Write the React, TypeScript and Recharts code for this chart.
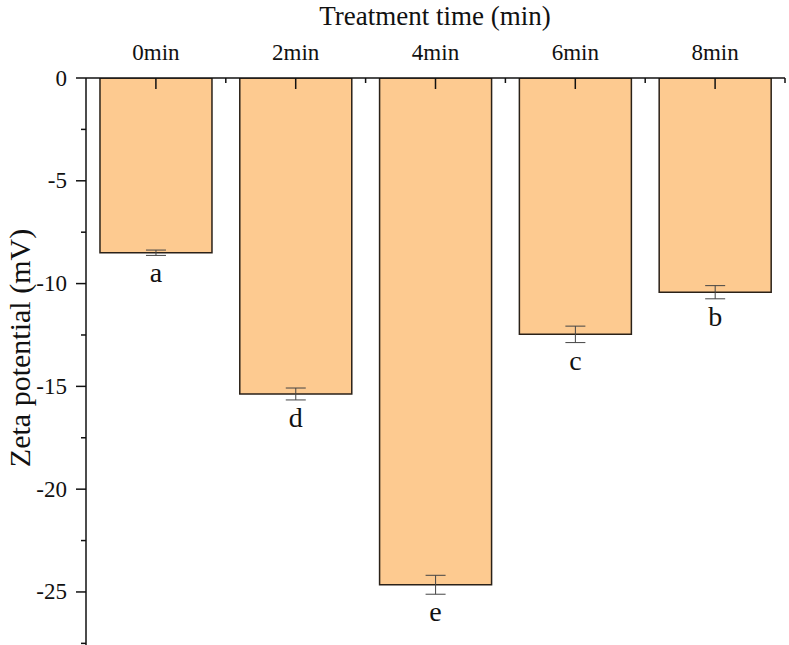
import { BarChart, Bar, XAxis, YAxis, ErrorBar, LabelList } from 'recharts';

const categories = ['0min', '2min', '4min', '6min', '8min'];
const zeta = [-8.5, -15.37, -24.65, -12.47, -10.42];
const errors = [0.13, 0.29, 0.46, 0.4, 0.32];
const letters = ['a', 'd', 'e', 'c', 'b'];
const yTicks = [0, -2.5, -5, -7.5, -10, -12.5, -15, -17.5, -20, -22.5, -25, -27.5];

const data = categories.map((name, i) => ({ name, value: zeta[i], err: errors[i], letter: letters[i] }));

const W = 789;
const H = 645;
const AXIS_X = 86;
const AXIS_Y = 78;
const RIGHT = 4;
const BAND = (W - AXIS_X - RIGHT) / categories.length;
const FONT = '"Liberation Serif", "Times New Roman", serif';

const XTick = (props: any) => {
    const { x, payload } = props;
    return (
        <g>
            <text x={x} y={60} textAnchor="middle" fontSize={23} fontFamily={FONT} fill="#111">{payload.value}</text>
            <line x1={x} y1={AXIS_Y} x2={x} y2={AXIS_Y + 11} stroke="#111" strokeWidth={1.5} />
            <line x1={x + BAND / 2} y1={AXIS_Y} x2={x + BAND / 2} y2={AXIS_Y + 5} stroke="#111" strokeWidth={1.5} />
        </g>
    );
};

const YTick = (props: any) => {
    const { y, payload } = props;
    const major = payload.value % 5 === 0;
    return (
        <g>
            <line x1={AXIS_X - (major ? 10 : 5)} y1={y} x2={AXIS_X} y2={y} stroke="#111" strokeWidth={1.5} />
            {major && (
                <text x={AXIS_X - 19} y={y} textAnchor="end" dominantBaseline="central" fontSize={23} fontFamily={FONT} fill="#111">
                    {payload.value}
                </text>
            )}
        </g>
    );
};

const renderLetter = (props: any) => {
    const { x, y, width, height, value } = props;
    const i = letters.indexOf(value);
    const bottom = Math.max(y, y + height);
    const pxPerUnit = Math.abs(height) / Math.abs(zeta[i]);
    const errPx = errors[i] * pxPerUnit;
    return (
        <text x={x + width / 2} y={bottom + errPx + 27} textAnchor="middle" fontSize={28} fontFamily={FONT} fill="#111">
            {value}
        </text>
    );
};

const YLabel = () => (
    <text x={19} y={348} transform="rotate(-90, 19, 348)" textAnchor="middle" dominantBaseline="central" fontSize={30} fontFamily={FONT} fill="#111">
        Zeta potential (mV)
    </text>
);

const Title = () => (
    <text x={435} y={25} textAnchor="middle" fontSize={27} fontFamily={FONT} fill="#111">
        Treatment time (min)
    </text>
);

export default function App() {
    return (
        <div style={{ position: 'absolute', left: 0, top: 0, background: '#fff' }}>
            <BarChart width={W} height={H} data={data} margin={{ top: 0, right: RIGHT, left: 0, bottom: 0 }} barCategoryGap="10%">
                <XAxis
                    dataKey="name"
                    orientation="top"
                    height={AXIS_Y}
                    tick={<XTick />}
                    tickLine={false}
                    axisLine={{ stroke: '#111', strokeWidth: 1.5 }}
                    interval={0}
                    label={<Title />}
                />
                <YAxis
                    type="number"
                    width={AXIS_X}
                    domain={[-27.58, 0]}
                    allowDataOverflow
                    ticks={yTicks}
                    interval={0}
                    tick={<YTick />}
                    tickLine={false}
                    tickSize={0}
                    axisLine={{ stroke: '#111', strokeWidth: 1.5 }}
                    label={<YLabel />}
                />
                <Bar dataKey="value" fill="#FDCA90" stroke="#2a2118" strokeWidth={1.5} isAnimationActive={false}>
                    <ErrorBar dataKey="err" width={10} stroke="#444" strokeWidth={1} direction="y" />
                    <LabelList dataKey="letter" content={renderLetter} />
                </Bar>
            </BarChart>
        </div>
    );
}
